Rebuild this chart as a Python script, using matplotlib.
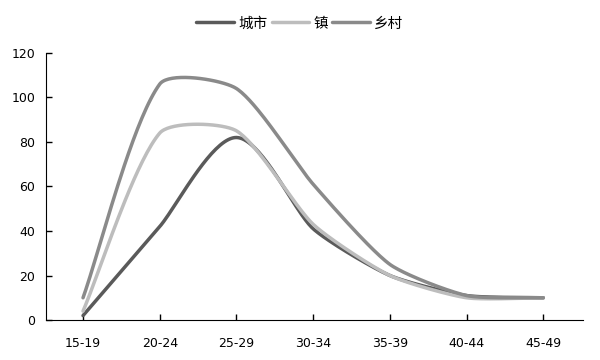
import numpy as np
import matplotlib
matplotlib.use('Agg')
from matplotlib import pyplot as plt

plt.rcParams['font.family'] = ['DejaVu Sans', 'Noto Sans CJK SC']

# age groups and series values
ages = ['15-19', '20-24', '25-29', '30-34', '35-39', '40-44', '45-49']
city = [2, 42, 82, 41, 20, 11, 10]
town = [4, 84, 85, 43, 20, 10, 10]
rural = [10, 106, 104, 61, 25, 11, 10]

names = ['城市', '镇', '乡村']
colors = ['#5a5a5a', '#bdbdbd', '#8a8a8a']

# pixel size of one unit on each axis, so smoothing acts in screen space
XPX, YPX = 76.7, 2.225


def smooth(y, s=0.21, n=40):
    # Excel-style smooth line: bezier with tangents from neighbours,
    # handle lengths scaled by the length of each segment
    p = np.column_stack([np.arange(len(y)) * XPX, np.asarray(y, float) * YPX])
    d = np.zeros_like(p)
    for i in range(len(p)):
        a = p[max(i - 1, 0)]
        b = p[min(i + 1, len(p) - 1)]
        v = b - a
        d[i] = v / np.hypot(*v)
    t = np.linspace(0, 1, n)[:, None]
    out = []
    for i in range(len(p) - 1):
        L = np.hypot(*(p[i + 1] - p[i]))
        c1 = p[i] + d[i] * L * s
        c2 = p[i + 1] - d[i + 1] * L * s
        b = (1 - t) ** 3 * p[i] + 3 * (1 - t) ** 2 * t * c1 + 3 * (1 - t) * t ** 2 * c2 + t ** 3 * p[i + 1]
        out.append(b)
    out = np.vstack(out)
    return out[:, 0] / XPX, out[:, 1] / YPX


fig = plt.figure(figsize=(6, 3.6), dpi=100)
ax = fig.add_axes([0.077, 0.111, 0.895, 0.742])

for vals, name, c in zip([city, town, rural], names, colors):
    sx, sy = smooth(vals)
    ax.plot(sx, sy, color=c, linewidth=2.5, label=name, solid_capstyle='round')

ax.set_xlim(-0.48, 6.52)
ax.set_ylim(0, 120)
ax.set_yticks(range(0, 121, 20))
ax.set_xticks(range(len(ages)))
ax.set_xticklabels(ages)
ax.spines['top'].set_visible(False)
ax.spines['right'].set_visible(False)
ax.tick_params(direction='in', length=4, labelsize=9, width=1, colors='black')
ax.tick_params(axis='x', pad=12)
ax.tick_params(axis='y', pad=8)

ax.legend(loc='center', bbox_to_anchor=(0.472, 1.11), ncol=3, frameon=False,
          prop={'family': ['Noto Sans CJK SC'], 'size': 10.5},
          handlelength=2.6, columnspacing=0.3, handletextpad=0.25)

plt.savefig('out.png', dpi=100)
